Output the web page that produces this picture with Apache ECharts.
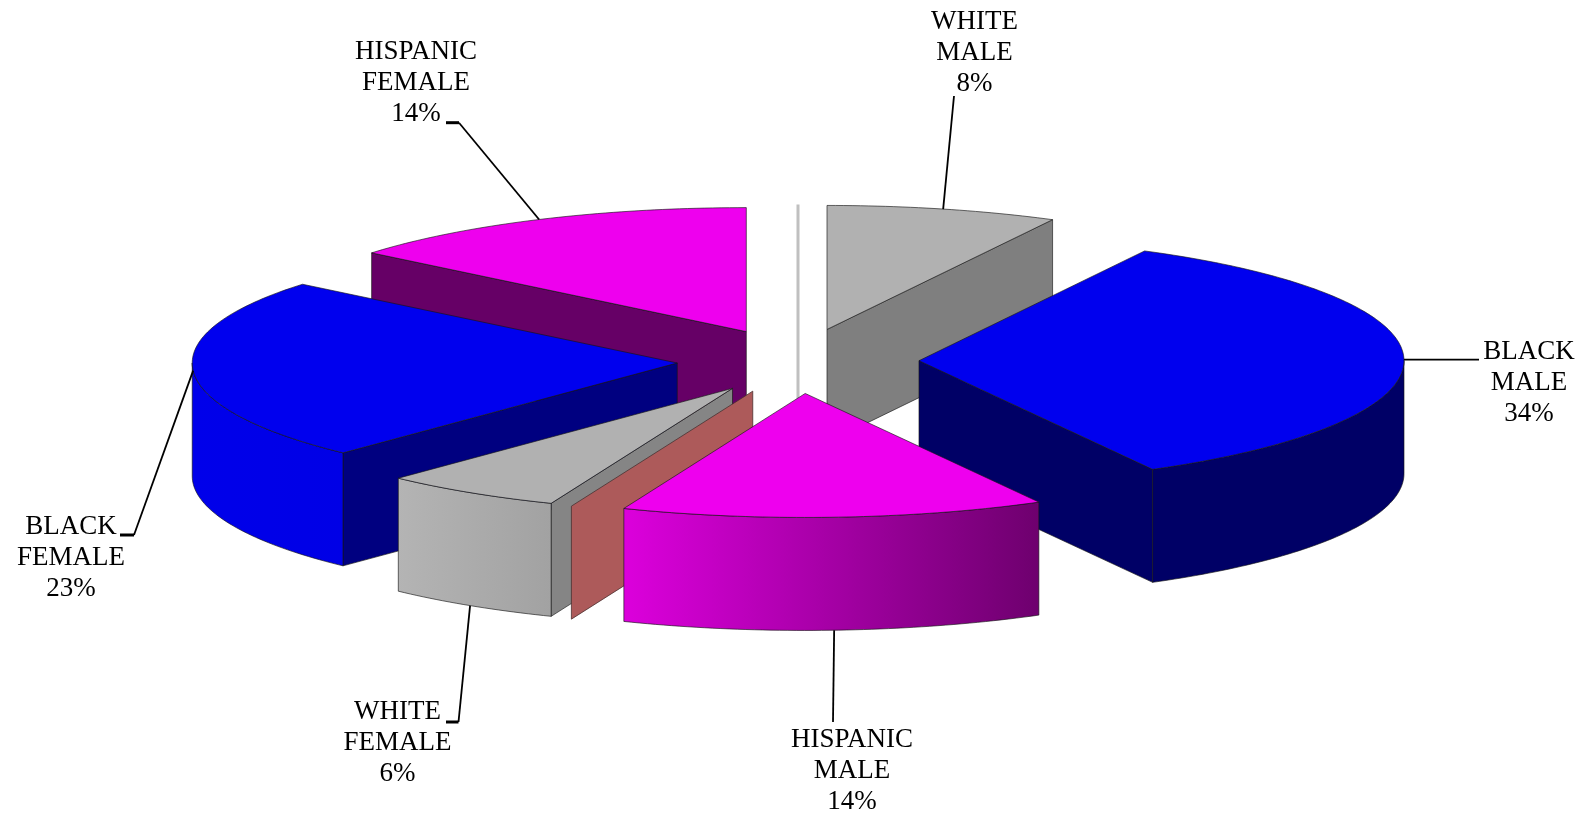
<!DOCTYPE html>
<html>
<head>
<meta charset="utf-8">
<style>html,body{margin:0;padding:0;background:#fff}#chart{width:1590px;height:815px}</style>
<script src="https://cdn.jsdelivr.net/npm/echarts@6/dist/echarts.min.js"></script>
</head>
<body>
<div id="chart"></div>
<script>
// ---- data (clockwise from 12 o'clock) ----
const categories = ['', 'WHITE MALE', 'BLACK MALE', 'HISPANIC MALE', '', 'WHITE FEMALE', 'BLACK FEMALE', 'HISPANIC FEMALE'];
// printed percentages
const percentLabels = [null, 8, 34, 14, null, 6, 23, 14];
const shares = [0, 7.7, 34.3, 14.1, 0, 6.0, 23.85, 14.05];

// ---- layout ----
const PIE = { cx: 798, cy: 361, rx: 485, ry: 124, depth: 113, explodeX: 121, explodeY: 32.5 };
const paintOrder = [7, 1, 0, 6, 2, 5, 4, 3]; // back-to-front index into the categories above
const labelCenters = [null, [974.5, 53], [1529, 383], [852, 770.5], null, [397.5, 743], [71, 557.5], [416, 83]];
const leaderPaths = [
  null,
  [[954, 96]],
  [[1479, 359.6]],
  [[833, 722]],
  null,
  [[458.5, 722], [446, 722]],
  [[134, 535], [120, 535]],
  [[459, 122.7], [446, 122.7]]
];

// ---- styles ----
const TOP = { blue: '#0000ee', pink: '#ee00ee', gray: '#b1b1b1' };
const sliceStyles = [
  { wall: '#c0c0c0', stroke: '#c0c0c0', strokeWidth: 3 },
  { top: TOP.gray, wall: '#7f7f7f' },
  { top: TOP.blue, wall: '#000066', outer: ['#000066', '#000066'] },
  { top: TOP.pink, wall: '#660066', outer: ['#dc00dc', '#6e006e'] },
  { wall: '#ad5a5a', stroke: '#4a3030', strokeWidth: 0.8 },
  { top: TOP.gray, wall: '#858585', outer: ['#b4b4b4', '#a2a2a2'] },
  { top: TOP.blue, wall: '#000080', outer: ['#0000ea', '#0000e6'] },
  { top: TOP.pink, wall: '#660066' }
];
const EDGE = 'rgba(20,20,20,0.8)';
const EDGE_W = 0.8;
const LABEL_FONT = '27px "Liberation Serif"';
const LABEL_LH = 31;

// ---- geometry derived from the shares ----
const total = shares.reduce((a, b) => a + b, 0);
const sliceAngles = [];
shares.reduce((acc, v, i) => {
  const next = acc + v / total * 360;
  sliceAngles[i] = [acc, next];
  return next;
}, 0);
const rad = d => d * Math.PI / 180;

function apexOf(i) {
  const mid = rad((sliceAngles[i][0] + sliceAngles[i][1]) / 2);
  return [PIE.cx + PIE.explodeX * Math.sin(mid), PIE.cy - PIE.explodeY * Math.cos(mid)];
}
function rim(apex, deg, drop) {
  const t = rad(deg);
  return [apex[0] + PIE.rx * Math.sin(t), apex[1] - PIE.ry * Math.cos(t) + (drop ? PIE.depth : 0)];
}
function arc(apex, a0, a1, drop) {
  const pts = [];
  const n = Math.max(1, Math.ceil(Math.abs(a1 - a0)));
  for (let k = 0; k <= n; k++) pts.push(rim(apex, a0 + (a1 - a0) * k / n, drop));
  return pts;
}
function wallPoints(apex, deg) {
  const r = rim(apex, deg, false);
  const rb = rim(apex, deg, true);
  return [apex, r, rb, [apex[0], apex[1] + PIE.depth]];
}

function renderSlice(params, api) {
  const i = api.value(0);
  const st = sliceStyles[i];
  const [a0, a1] = sliceAngles[i];
  const apex = apexOf(i);
  const rank = paintOrder.indexOf(i) * 10 + 1;
  const children = [];
  const poly = (points, fill, z, stroke, sw) => children.push({
    type: 'polygon', z2: rank + z, shape: { points },
    style: { fill, stroke: stroke || EDGE, lineWidth: sw === undefined ? EDGE_W : sw }
  });

  if (a0 === a1) {
    // a zero-share slice only shows as its cut face
    poly(wallPoints(apex, a0), st.wall, 0, st.stroke, st.strokeWidth);
  } else {
    if (Math.sin(rad(a0)) < -1e-6) poly(wallPoints(apex, a0), st.wall, 0);
    if (Math.sin(rad(a1)) > 1e-6) poly(wallPoints(apex, a1), st.wall, 0);
    const f0 = Math.max(a0, 90), f1 = Math.min(a1, 270);
    if (st.outer && f1 > f0) {
      const pts = arc(apex, f0, f1, false).concat(arc(apex, f1, f0, true));
      const fill = new echarts.graphic.LinearGradient(0, 0, 1, 0, [
        { offset: 0, color: st.outer[0] }, { offset: 1, color: st.outer[1] }
      ]);
      poly(pts, fill, 1);
    }
    poly([apex].concat(arc(apex, a0, a1, false)), st.top, 2);
  }

  // label and leader line
  if (labelCenters[i]) {
    const midDeg = (a0 + a1) / 2;
    const front = Math.cos(rad(midDeg)) < -0.5;
    const start = rim(apex, midDeg, front);
    const path = leaderPaths[i];
    const main = [start, path[0]];
    children.push({
      type: 'polyline', z2: 200, shape: { points: main },
      style: { fill: null, stroke: '#000', lineWidth: 1.8 }
    });
    if (path[1]) {
      children.push({
        type: 'polyline', z2: 200, shape: { points: path },
        style: { fill: null, stroke: '#000', lineWidth: 3 }
      });
    }
    const words = categories[i].split(' ');
    children.push({
      type: 'text', z2: 201, x: labelCenters[i][0], y: labelCenters[i][1],
      style: {
        text: words.concat(percentLabels[i] + '%').join('\n'),
        font: LABEL_FONT, lineHeight: LABEL_LH, fill: '#000',
        align: 'center', verticalAlign: 'middle'
      }
    });
  }
  return { type: 'group', children };
}

const chart = echarts.init(document.getElementById('chart'), null, { renderer: 'canvas' });
chart.setOption({
  animation: false,
  backgroundColor: '#fff',
  series: [{
    type: 'custom',
    coordinateSystem: 'none',
    silent: true,
    data: shares.map((v, i) => [i, v]),
    dimensions: ['index', 'share'],
    encode: { value: 1 },
    renderItem: renderSlice
  }]
});
</script>
</body>
</html>
